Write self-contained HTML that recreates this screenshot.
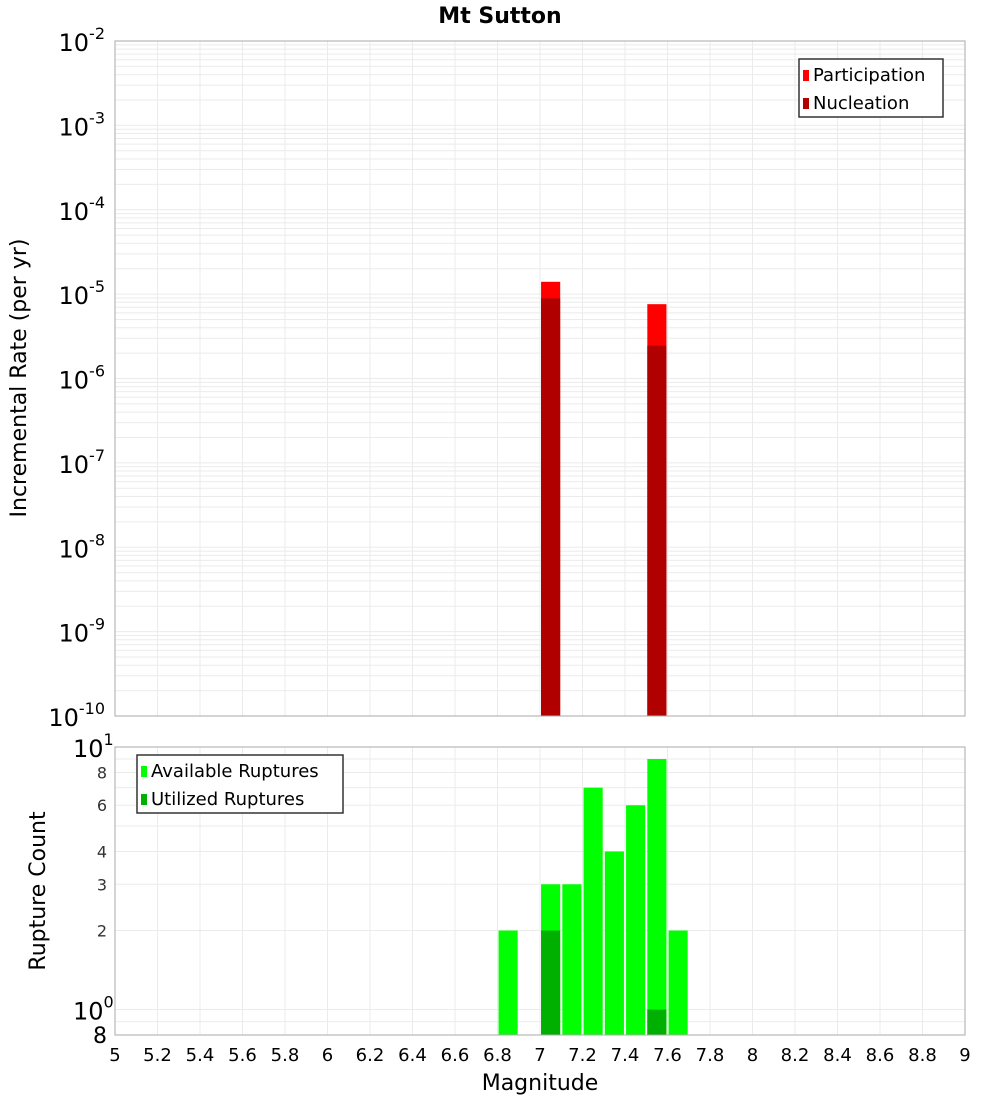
<!DOCTYPE html>
<html><head><meta charset="utf-8"><style>
body{margin:0;background:#fff;font-family:"DejaVu Sans","Liberation Sans",sans-serif;}
svg text{font-family:"DejaVu Sans","Liberation Sans",sans-serif;}
</style></head><body>
<svg id="c" width="1000" height="1100" xmlns="http://www.w3.org/2000/svg"></svg>
<script>
const binCenters=[6.85,6.95,7.05,7.15,7.25,7.35,7.45,7.55,7.65];
const rateBins=[7.05,7.55];
const participation=[1.4e-5,7.6e-6];
const nucleation=[8.9e-6,2.45e-6];
const available=[2,0,3,3,7,4,6,9,2];
const utilized=[0,0,2,0,0,0,0,1,0];
const xTicks=[5,5.2,5.4,5.6,5.8,6,6.2,6.4,6.6,6.8,7,7.2,7.4,7.6,7.8,8,8.2,8.4,8.6,8.8,9];
const topExps=[-2,-3,-4,-5,-6,-7,-8,-9,-10];
const botTicks=[2,3,4,6,8];

const svg=document.getElementById('c');const NS='http://www.w3.org/2000/svg';
function el(t,a,p){const e=document.createElementNS(NS,t);for(const k in a)e.setAttribute(k,a[k]);(p||svg).appendChild(e);return e;}
const L=115,R=965,T1=41,B1=716,T2=747,B2=1035;
const X=v=>L+(v-5)/4*(R-L);
const Y1=v=>T1+(-2-Math.log10(v))*(B1-T1)/8;
const lmin=Math.log10(0.8),lmax=1;
const Y2=v=>B2-(Math.log10(v)-lmin)/(lmax-lmin)*(B2-T2);
const bw=0.09*(R-L)/4;

// grids
const g=el('g',{});
xTicks.forEach(t=>{el('line',{x1:X(t),x2:X(t),y1:T1,y2:B1,stroke:'#ebebeb'},g);el('line',{x1:X(t),x2:X(t),y1:T2,y2:B2,stroke:'#ebebeb'},g);});
for(let e=-10;e<-2;e++)for(let m=1;m<10;m++){const y=Y1(m*Math.pow(10,e));el('line',{x1:L,x2:R,y1:y,y2:y,stroke:'#ebebeb'},g);}
[0.8,0.9,1,2,3,4,5,6,7,8,9].forEach(v=>{const y=Y2(v);el('line',{x1:L,x2:R,y1:y,y2:y,stroke:'#ebebeb'},g);});

// top bars
rateBins.forEach((m,i)=>{
 let r=el('rect',{x:X(m)-bw/2,y:Y1(participation[i]),width:bw,height:B1-Y1(participation[i]),fill:'#ff0000'});
 
 r=el('rect',{x:X(m)-bw/2,y:Y1(nucleation[i]),width:bw,height:B1-Y1(nucleation[i]),fill:'#b00000'});
 
});
// bottom bars
binCenters.forEach((m,i)=>{
 if(available[i]>0){const y=Math.max(T2,Y2(available[i]));const r=el('rect',{x:X(m)-bw/2,y:y,width:bw,height:B2-y,fill:'#00ff00'});
 }
 if(utilized[i]>0){const y=Y2(utilized[i]);const r=el('rect',{x:X(m)-bw/2,y:y,width:bw,height:B2-y,fill:'#00b000'});
 }
});
// frames
el('rect',{x:L,y:T1,width:R-L,height:B1-T1,fill:'none',stroke:'#aaa'});
el('rect',{x:L,y:T2,width:R-L,height:B2-T2,fill:'none',stroke:'#aaa'});

function txt(s,a,name){const t=el('text',a);t.textContent=s;return t;}
// title
txt('Mt Sutton',{x:500,y:23,'text-anchor':'middle','font-size':22,'font-weight':'bold'},'chart-title');
// top y ticks
topExps.forEach(e=>{const y=Y1(Math.pow(10,e));const t=el('text',{x:105,y:y+10,'text-anchor':'end','font-size':24});
 
 t.innerHTML='10<tspan dy="-12" font-size="16">'+e+'</tspan>';});
// bottom y ticks
[[10,'1'],[1,'0']].forEach(([v,e])=>{const t=el('text',{x:73,y:Y2(v)+10,'font-size':24});
 
 t.innerHTML='10<tspan dy="-12" font-size="16">'+e+'</tspan>';});
txt('8',{x:107,y:Y2(0.8)+8,'text-anchor':'end','font-size':22},'y2-tick-label');
botTicks.forEach(v=>txt(String(v),{x:107,y:Y2(v)+6,'text-anchor':'end','font-size':16,fill:'#333'},'y2-tick-label'));
// x ticks
xTicks.forEach(t=>txt(String(t),{x:X(t),y:1061,'text-anchor':'middle','font-size':18},'x-tick-label'));
txt('Magnitude',{x:540,y:1090,'text-anchor':'middle','font-size':22},'x-axis-title');
txt('Incremental Rate (per yr)',{x:0,y:0,transform:'translate(26,378) rotate(-90)','text-anchor':'middle','font-size':22},'y-axis-title');
txt('Rupture Count',{x:0,y:0,transform:'translate(45,891) rotate(-90)','text-anchor':'middle','font-size':22},'y2-axis-title');
// legends
function legend(x,y,w,items,name){const lg=el('g',{});
 el('rect',{x:x,y:y,width:w,height:58,fill:'#fff',stroke:'#333','stroke-width':1.5},lg);
 items.forEach(([c,s],i)=>{el('rect',{x:x+4,y:y+11+i*28,width:6,height:11,fill:c},lg);
 const t=el('text',{x:x+14,y:y+22+i*28,'font-size':18},lg);t.textContent=s;});}
legend(799,59,144,[['#ff0000','Participation'],['#b00000','Nucleation']],'top-legend');
legend(137,755,206,[['#00ff00','Available Ruptures'],['#00b000','Utilized Ruptures']],'bottom-legend');
</script>
</body></html>
